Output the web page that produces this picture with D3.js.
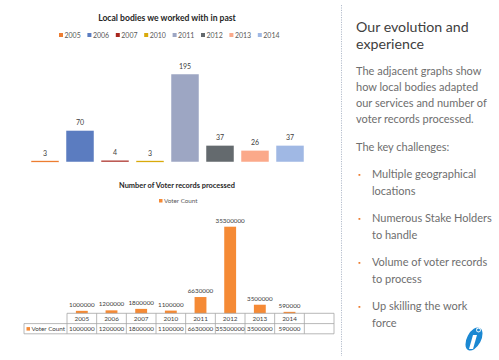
<!DOCTYPE html>
<html>
<head>
<meta charset="utf-8">
<script src="https://cdnjs.cloudflare.com/ajax/libs/d3/7.8.5/d3.min.js"></script>
<style>
  html, body { margin: 0; padding: 0; background: #ffffff; }
  svg { display: block; }
  text { font-family: "Lato", "Open Sans", sans-serif; }
</style>
</head>
<body>
<svg id="chart" width="499" height="360"></svg>
<script>
// ---------- data ----------
const bodyYears = ["2005", "2006", "2007", "2010", "2011", "2012", "2013", "2014"];
const bodyValues = [3, 70, 4, 3, 195, 37, 26, 37];
const bodyColors = ["#ED7D31", "#5B7CC0", "#A8261E", "#D9AA0B", "#9DA6C3", "#646A6E", "#FBA98A", "#A0B8E4"];

const voterYears = ["2005", "2006", "2007", "2010", "2011", "2012", "2013", "2014", ""];
const voterValues = [1000000, 1200000, 1800000, 1100000, 6630000, 35300000, 3500000, 590000, null];
const voterSeries = "Voter Count";

const headingLines = ["Our evolution and", "experience"];
const introLines = ["The adjacent graphs show", "how local bodies adapted", "our services and number of", "voter records processed."];
const keyLine = "The key challenges:";
const bullets = [["Multiple geographical", "locations"], ["Numerous Stake Holders", "to handle"], ["Volume of voter records", "to process"], ["Up skilling the work", "force"]];

const svg = d3.select("#chart");

// ---------- top chart ----------
const topG = svg.append("g");
topG.append("text").attr("x", 167).attr("y", 20.5).attr("text-anchor", "middle")
  .attr("font-size", 8.6).attr("font-weight", "bold").attr("fill", "#262626")
  .text("Local bodies we worked with in past");

const legTop = topG.append("g");
bodyYears.forEach((y, i) => {
  const lx = 59 + i * 28.4;
  legTop.append("rect").attr("x", lx).attr("y", 33).attr("width", 4).attr("height", 4).attr("fill", bodyColors[i]);
  legTop.append("text").attr("x", lx + 5.5).attr("y", 37.5).attr("font-size", 7).attr("fill", "#595959").text(y);
});

const x1 = d3.scaleBand().domain(bodyYears).range([27.5, 307.5]).paddingInner(0.2).paddingOuter(0.1);
const y1 = d3.scaleLinear().domain([0, 195]).range([162, 74]);

topG.selectAll("rect.bar").data(bodyYears).join("rect").attr("class", "bar")
  .attr("x", d => x1(d)).attr("width", x1.bandwidth())
  .attr("y", (d, i) => y1(bodyValues[i])).attr("height", (d, i) => Math.max(1.6, y1(0) - y1(bodyValues[i])))
  .attr("fill", (d, i) => bodyColors[i])
  .attr("stroke", "#ffffff").attr("stroke-width", 0.5);

topG.selectAll("text.lbl").data(bodyYears).join("text").attr("class", "lbl")
  .attr("x", d => x1(d) + x1.bandwidth() / 2)
  .attr("y", (d, i) => y1(bodyValues[i]) - 5)
  .attr("text-anchor", "middle").attr("font-size", 7).attr("fill", "#404040")
  .text((d, i) => bodyValues[i]);

// ---------- bottom chart ----------
const bot = svg.append("g");
bot.append("text").attr("x", 177).attr("y", 187.5).attr("text-anchor", "middle")
  .attr("font-size", 7.4).attr("font-weight", "bold").attr("fill", "#262626")
  .text("Number of Voter records processed");
bot.append("rect").attr("x", 159).attr("y", 199).attr("width", 3.5).attr("height", 3.5).attr("fill", "#F58A35");
bot.append("text").attr("x", 164).attr("y", 203.3).attr("font-size", 6.3).attr("fill", "#595959").text(voterSeries);

const x2 = d3.scaleBand().domain(voterYears).range([67, 334]).paddingInner(0.6).paddingOuter(0.3);
const y2 = d3.scaleLinear().domain([0, 35300000]).range([313.3, 226.7]);

const valid = voterYears.map((d, i) => ({ k: d, v: voterValues[i] })).filter(d => d.v != null);

bot.selectAll("rect.bar").data(valid).join("rect").attr("class", "bar")
  .attr("x", d => x2(d.k)).attr("width", x2.bandwidth())
  .attr("y", d => y2(d.v)).attr("height", d => y2(0) - y2(d.v))
  .attr("fill", "#F58A35");

bot.selectAll("text.lbl").data(valid).join("text").attr("class", "lbl")
  .attr("x", d => x2(d.k) + x2.bandwidth() / 2)
  .attr("y", d => y2(d.v) - 4)
  .attr("text-anchor", "middle").attr("font-size", 6.3).attr("fill", "#404040")
  .text(d => d.v);

// data table
const step = x2.step();
const tx0 = x2.range()[0], tx1 = x2.range()[1];
const r0 = 313.3, r1 = 323.6, r2 = 333.8;
const grid = bot.append("g").attr("stroke", "#A6A6A6").attr("stroke-width", 0.8).attr("fill", "none");
grid.append("line").attr("x1", tx0).attr("x2", tx1).attr("y1", r0).attr("y2", r0);
grid.append("line").attr("x1", 24).attr("x2", tx1).attr("y1", r1).attr("y2", r1);
grid.append("line").attr("x1", 24).attr("x2", tx1).attr("y1", r2).attr("y2", r2);
grid.append("line").attr("x1", 24).attr("x2", 24).attr("y1", r1).attr("y2", r2);
voterYears.concat(["end"]).forEach((d, i) => {
  const xx = tx0 + i * step;
  grid.append("line").attr("x1", xx).attr("x2", xx).attr("y1", r0).attr("y2", r2);
});
voterYears.forEach((d, i) => {
  const cx = tx0 + (i + 0.5) * step;
  bot.append("text").attr("x", cx).attr("y", r0 + 7.6).attr("text-anchor", "middle")
    .attr("font-size", 6.3).attr("fill", "#404040").text(d);
  bot.append("text").attr("x", cx).attr("y", r1 + 7.6).attr("text-anchor", "middle")
    .attr("font-size", 6.3).attr("fill", "#404040").text(voterValues[i] == null ? "" : voterValues[i]);
});
bot.append("rect").attr("x", 26.5).attr("y", r1 + 3.5).attr("width", 3.5).attr("height", 3.5).attr("fill", "#F58A35");
bot.append("text").attr("x", 31.5).attr("y", r1 + 7.6).attr("font-size", 6.3).attr("fill", "#404040").text(voterSeries);

// ---------- right panel ----------
svg.append("line").attr("x1", 341.5).attr("x2", 341.5).attr("y1", 5).attr("y2", 356)
  .attr("stroke", "#B4BDCC").attr("stroke-width", 1).attr("stroke-dasharray", "1.2,1.2");

const panel = svg.append("g");
headingLines.forEach((t, i) => {
  panel.append("text").attr("x", 356).attr("y", 32 + i * 16.5).attr("font-size", 14.2)
    .attr("fill", "#404040").text(t);
});
introLines.forEach((t, i) => {
  panel.append("text").attr("x", 356).attr("y", 74.5 + i * 16).attr("font-size", 11)
    .attr("fill", "#6E6E6E").text(t);
});
panel.append("text").attr("x", 356).attr("y", 150.5).attr("font-size", 11).attr("fill", "#6E6E6E").text(keyLine);
bullets.forEach((b, i) => {
  const by = 178 + i * 44;
  panel.append("rect").attr("x", 358.5).attr("y", by - 4).attr("width", 1.8).attr("height", 1.8).attr("fill", "#ED7D31");
  b.forEach((t, j) => {
    panel.append("text").attr("x", 372).attr("y", by + j * 16.5).attr("font-size", 11)
      .attr("fill", "#6E6E6E").text(t);
  });
});

// logo
const logo = svg.append("g").attr("transform", "translate(474,339)");
logo.append("ellipse").attr("rx", 7).attr("ry", 12.5).attr("transform", "rotate(28)").attr("fill", "#1B88D2");
logo.append("path").attr("d", "M-1,-4 L3,-4 L-1,10 L-5,10 Z").attr("fill", "#ffffff");
logo.append("circle").attr("cx", 4.5).attr("cy", -9).attr("r", 2.4).attr("fill", "#ffffff");
logo.append("circle").attr("cx", 4.5).attr("cy", -9).attr("r", 1.5).attr("fill", "#1B88D2");
</script>
</body>
</html>
